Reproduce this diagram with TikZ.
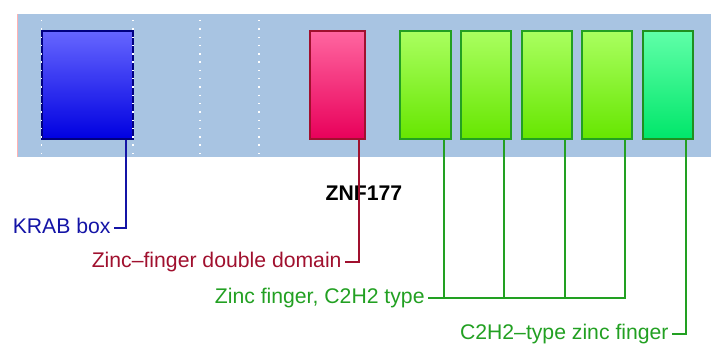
\documentclass[tikz,border=0pt]{standalone}
\usepackage{fontspec}
\setmainfont{Liberation Sans}
\definecolor{band}{HTML}{A8C4E2}
\definecolor{krabcol}{HTML}{1414A6}
\definecolor{zfdcol}{HTML}{A0102E}
\definecolor{zfcol}{HTML}{22A022}

\begin{document}
\begin{tikzpicture}[x=0.5pt,y=-0.5pt,
  font=\fontsize{10.6}{12}\selectfont,
  dom/.style={draw, line width=0.8pt, inner sep=0pt, minimum height=54pt},
  lab/.style={anchor=mid east, inner sep=1.5pt},
  conn/.style={line width=1pt}]
\useasboundingbox (0,0) rectangle (719,358);
\fill[band] (17,14) rectangle (711,157);
\draw[red!30, line width=0.5pt] (17,14) -- (17,157);

% domains
\node[dom, draw=blue!50!black, top color=blue!60, bottom color=blue!88!black, minimum width=45.5pt] (krab) at (87.5,85) {};
\node[dom, draw=zfdcol, top color={rgb,255:red,255;green,102;blue,160}, bottom color={rgb,255:red,232;green,0;blue,90}, minimum width=27.5pt] (zfd) at (337.5,85) {};
\node[dom, draw=zfcol, top color={rgb,255:red,170;green,255;blue,96}, bottom color={rgb,255:red,102;green,230;blue,0}, minimum width=25.25pt] (zf1) at (425.5,85) {};
\node[dom, draw=zfcol, top color={rgb,255:red,170;green,255;blue,96}, bottom color={rgb,255:red,102;green,230;blue,0}, minimum width=25.25pt] (zf2) at (486,85) {};
\node[dom, draw=zfcol, top color={rgb,255:red,170;green,255;blue,96}, bottom color={rgb,255:red,102;green,230;blue,0}, minimum width=25.25pt] (zf3) at (547,85) {};
\node[dom, draw=zfcol, top color={rgb,255:red,170;green,255;blue,96}, bottom color={rgb,255:red,102;green,230;blue,0}, minimum width=25.25pt] (zf4) at (607,85) {};
\node[dom, draw=zfcol!90!black, top color={rgb,255:red,96;green,255;blue,168}, bottom color={rgb,255:red,0;green,230;blue,106}, minimum width=25.25pt] (ctz) at (668,85) {};

% dotted guides
\foreach \x in {41.5,133,200,259}
  \draw[white, line width=0.7pt, dash pattern=on 0.7pt off 3.45pt] (\x,20) -- (\x,156);

\node[font=\fontsize{10.6}{12}\selectfont\bfseries] (title) at (364,193) {ZNF177};

% labels
\node[lab, text=krabcol] (krablab) at (114,228) {KRAB box};
\node[lab, text=zfdcol] (zfdlab) at (345,262) {Zinc\textendash finger double domain};
\node[lab, text=zfcol] (zflab) at (428,298) {Zinc finger, C2H2 type};
\node[lab, text=zfcol] (ctzlab) at (672,334) {C2H2\textendash type zinc finger};

\draw[conn, krabcol] ([xshift=-4pt]krab.south east) |- (krablab.mid east);
\draw[conn, zfdcol] ([xshift=-3.5pt]zfd.south east) |- (zfdlab.mid east);
\foreach \n in {zf1,zf2,zf3,zf4}
  \draw[conn, zfcol] ([xshift=-4pt]\n.south east) |- (zflab.mid east);
\draw[conn, zfcol] ([xshift=-4pt]ctz.south east) |- (ctzlab.mid east);
\end{tikzpicture}
\end{document}
